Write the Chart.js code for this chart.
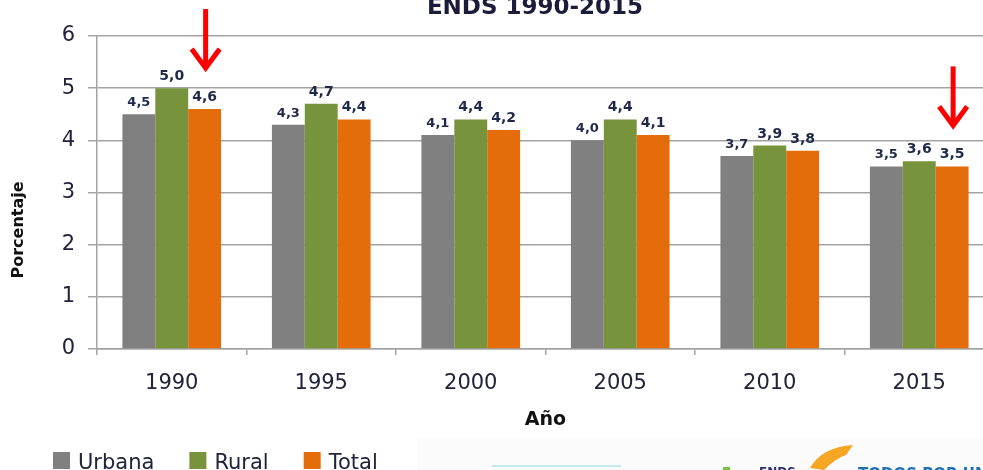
<!DOCTYPE html>
<html lang="es">
<head>
    <meta charset="utf-8" />
    <title>ENDS 1990-2015</title>
    <style>
        html, body {
            margin: 0;
            padding: 0;
            background: #ffffff;
            overflow: hidden;
        }
        #wrap {
            position: relative;
            width: 1000px;
            height: 470px;
        }
    </style>
</head>
<body>
    <div id="wrap">
        <canvas id="myChart"></canvas>
    </div>

    <script src="https://cdn.jsdelivr.net/npm/chart.js@4.4.0/dist/chart.umd.min.js"></script>
    <script>
        var years = ["1990", "1995", "2000", "2005", "2010", "2015"];
        var urbana = [4.5, 4.3, 4.1, 4.0, 3.7, 3.5];
        var rural = [5.0, 4.7, 4.4, 4.4, 3.9, 3.6];
        var total = [4.6, 4.4, 4.2, 4.1, 3.8, 3.5];
        var yTicks = [0, 1, 2, 3, 4, 5, 6];
        var seriesNames = ["Urbana", "Rural", "Total"];
        var barColors = ["#808080", "#77933c", "#e46c0a"];
        var arrowYears = ["1990", "2015"];
        var chartTitle = "ENDS 1990-2015";

        var gridColor = "#a3a3a3";
        var textColor = "#22223a";
        var labelColor = "#1f2a4a";

        Chart.defaults.font.family = "'DejaVu Sans', sans-serif";

        // labels above each bar, 4,5 style
        var barLabels = {
            id: "barLabels",
            afterDatasetsDraw: function (chart) {
                var ctx = chart.ctx;
                var fonts = ["bold 13px 'DejaVu Sans'", "bold 14px 'DejaVu Sans'", "bold 14px 'DejaVu Sans'"];
                ctx.save();
                ctx.fillStyle = labelColor;
                ctx.textAlign = "center";
                ctx.textBaseline = "alphabetic";
                chart.data.datasets.forEach(function (ds, d) {
                    ctx.font = fonts[d];
                    chart.getDatasetMeta(d).data.forEach(function (bar, i) {
                        var txt = ds.data[i].toFixed(1).replace(".", ",");
                        ctx.fillText(txt, bar.x, bar.y - 8);
                    });
                });
                ctx.restore();
            }
        };

        // red arrows over the Total bars
        var arrows = {
            id: "arrows",
            afterDatasetsDraw: function (chart) {
                var ctx = chart.ctx;
                var meta = chart.getDatasetMeta(2);
                ctx.save();
                ctx.strokeStyle = "#ff0000";
                ctx.lineWidth = 5;
                ctx.lineCap = "butt";
                ctx.lineJoin = "miter";
                arrowYears.forEach(function (yr) {
                    var bar = meta.data[years.indexOf(yr)];
                    var x = bar.x + 1;
                    var tip = bar.y - 38;
                    ctx.beginPath();
                    ctx.moveTo(x, tip - 62);
                    ctx.lineTo(x, tip - 3);
                    ctx.stroke();
                    ctx.beginPath();
                    ctx.moveTo(x - 14, tip - 22);
                    ctx.lineTo(x, tip - 3);
                    ctx.lineTo(x + 14, tip - 22);
                    ctx.stroke();
                });
                ctx.restore();
            }
        };

        // title, y title, legend and the logo strip at the bottom
        var extras = {
            id: "extras",
            beforeDraw: function (chart) {
                var ctx = chart.ctx;
                ctx.save();
                ctx.fillStyle = "#fbfbfb";
                ctx.fillRect(417, 438, 583, 32);
                ctx.restore();
            },
            afterDraw: function (chart) {
                var ctx = chart.ctx;
                ctx.save();

                ctx.fillStyle = "#1b1b3a";
                ctx.font = "bold 23px 'DejaVu Sans'";
                ctx.textAlign = "center";
                ctx.textBaseline = "alphabetic";
                ctx.fillText(chartTitle, 535, 14);

                ctx.save();
                ctx.translate(19, 230);
                ctx.rotate(-Math.PI / 2);
                ctx.fillStyle = "#111111";
                ctx.font = "bold 16px 'DejaVu Sans'";
                ctx.textBaseline = "middle";
                ctx.fillText("Porcentaje", 0, 0);
                ctx.restore();

                // legend
                ctx.font = "21px 'DejaVu Sans'";
                ctx.textAlign = "left";
                ctx.textBaseline = "alphabetic";
                var lx = 53;
                chart.data.datasets.forEach(function (ds) {
                    ctx.fillStyle = ds.backgroundColor;
                    ctx.fillRect(lx, 452, 17, 17);
                    ctx.fillStyle = textColor;
                    ctx.fillText(ds.label, lx + 25, 469);
                    lx += 25 + ctx.measureText(ds.label).width + 35;
                });

                // logo strip (cut off by the bottom edge)
                ctx.fillStyle = "#c6e9f0";
                ctx.fillRect(492, 465, 129, 2);
                ctx.fillStyle = "#7cc242";
                ctx.fillRect(723, 467, 7, 4);
                ctx.fillStyle = "#2b2f6b";
                ctx.font = "bold 12px 'DejaVu Sans'";
                ctx.fillText("ENDS", 759, 476);
                ctx.fillStyle = "#f5a623";
                ctx.beginPath();
                ctx.moveTo(853, 445);
                ctx.quadraticCurveTo(822, 447, 810, 468);
                ctx.lineTo(824, 470);
                ctx.quadraticCurveTo(836, 458, 846, 455);
                ctx.closePath();
                ctx.fill();
                ctx.fillStyle = "#1f6fb5";
                ctx.font = "bold 15px 'DejaVu Sans'";
                ctx.fillText("TODOS POR UN", 858, 479);

                ctx.restore();
            }
        };

        new Chart("myChart", {
            type: "bar",
            data: {
                labels: years,
                datasets: [
                    { label: seriesNames[0], data: urbana, backgroundColor: barColors[0] },
                    { label: seriesNames[1], data: rural, backgroundColor: barColors[1] },
                    { label: seriesNames[2], data: total, backgroundColor: barColors[2] }
                ]
            },
            options: {
                responsive: true,
                maintainAspectRatio: false,
                animation: false,
                datasets: {
                    bar: { categoryPercentage: 0.66, barPercentage: 1.0 }
                },
                layout: { padding: { top: 36, right: 6, left: 0, bottom: 0 } },
                plugins: {
                    legend: { display: false },
                    title: { display: false },
                    tooltip: { enabled: false }
                },
                scales: {
                    x: {
                        grid: {
                            offset: true,
                            drawOnChartArea: false,
                            drawTicks: true,
                            tickLength: 6,
                            color: gridColor,
                            lineWidth: 1.5
                        },
                        border: { color: gridColor, width: 1.5 },
                        ticks: {
                            color: textColor,
                            font: { size: 21 },
                            padding: 16
                        },
                        title: {
                            display: true,
                            text: "Año",
                            color: "#111111",
                            font: { size: 19, weight: "bold" },
                            padding: { top: 0, bottom: 39 }
                        },
                        afterFit: function (scale) { scale.height = 121; }
                    },
                    y: {
                        min: yTicks[0],
                        max: yTicks[yTicks.length - 1],
                        afterBuildTicks: function (scale) {
                            scale.ticks = yTicks.map(function (v) { return { value: v }; });
                        },
                        grid: {
                            color: gridColor,
                            lineWidth: 1.5,
                            tickLength: 9
                        },
                        border: { color: gridColor, width: 1.5 },
                        ticks: {
                            color: textColor,
                            font: { size: 21 },
                            padding: 13
                        },
                        afterFit: function (scale) { scale.width = 97; }
                    }
                }
            },
            plugins: [barLabels, arrows, extras]
        });
    </script>
</body>
</html>
